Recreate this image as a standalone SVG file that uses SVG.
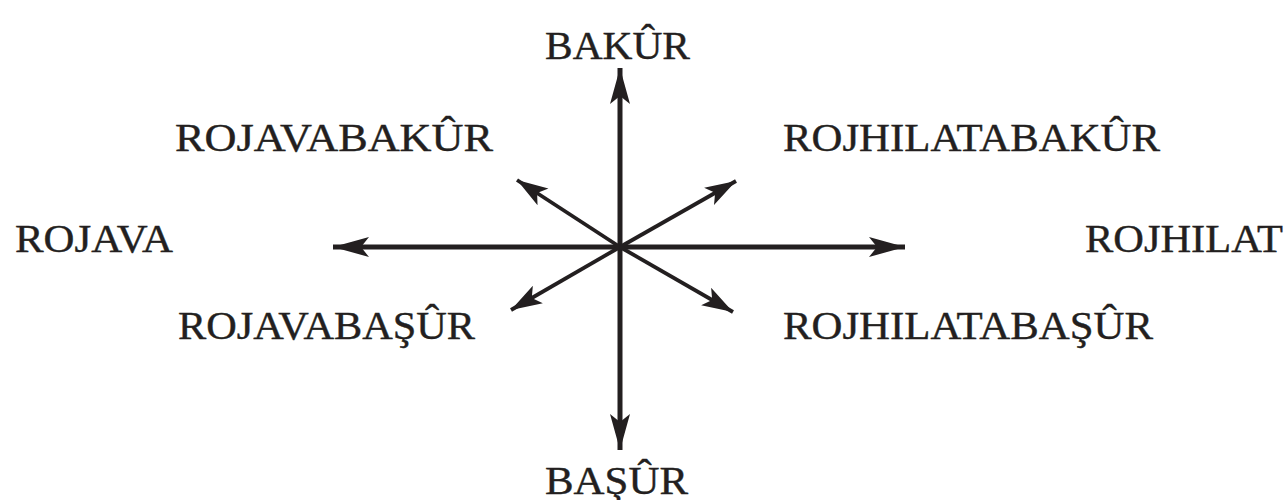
<svg xmlns="http://www.w3.org/2000/svg" width="1285" height="500" viewBox="0 0 1285 500">
  <style>
    .lbl { font-family: "Liberation Serif", "Times New Roman", serif; font-size: 39px; fill: #231f20; stroke: #231f20; stroke-width: 0.4; }
    .axis { stroke: #231f20; stroke-width: 5; fill: none; }
    .diag { stroke: #231f20; stroke-width: 3.8; fill: none; }
  </style>
  <defs>
    <marker id="headBig" markerUnits="userSpaceOnUse" viewBox="-38 -12 40 24" refX="0" refY="0" markerWidth="40" markerHeight="24" orient="auto">
      <path d="M0,0 L-36,-10 L-28,0 L-36,10 Z" fill="#231f20"/>
    </marker>
    <marker id="headSmall" markerUnits="userSpaceOnUse" viewBox="-34 -12 36 24" refX="0" refY="0" markerWidth="36" markerHeight="24" orient="auto">
      <path d="M0,0 L-31,-10 L-24,0 L-31,10 Z" fill="#231f20"/>
    </marker>
  </defs>
  <rect width="1285" height="500" fill="#ffffff"/>
  <g id="connectors">
    <line class="axis" x1="620" y1="247" x2="620" y2="68" marker-end="url(#headBig)"/>
    <line class="axis" x1="620" y1="247" x2="620" y2="450" marker-end="url(#headBig)"/>
    <line class="axis" x1="620" y1="247" x2="333" y2="247" marker-end="url(#headBig)"/>
    <line class="axis" x1="620" y1="247" x2="905" y2="247" marker-end="url(#headBig)"/>
    <line class="diag" x1="620" y1="247" x2="517" y2="180" marker-end="url(#headSmall)"/>
    <line class="diag" x1="620" y1="247" x2="736" y2="181" marker-end="url(#headSmall)"/>
    <line class="diag" x1="620" y1="247" x2="511" y2="310" marker-end="url(#headSmall)"/>
    <line class="diag" x1="620" y1="247" x2="733" y2="312" marker-end="url(#headSmall)"/>
  </g>
  <g id="bakur"><text class="lbl" x="545" y="59" textLength="145" lengthAdjust="spacingAndGlyphs">BAKÛR</text></g>
  <g id="rojavabakur"><text class="lbl" x="175" y="151" textLength="318" lengthAdjust="spacingAndGlyphs">ROJAVABAKÛR</text></g>
  <g id="rojhilatabakur"><text class="lbl" x="783" y="151" textLength="377" lengthAdjust="spacingAndGlyphs">ROJHILATABAKÛR</text></g>
  <g id="rojava"><text class="lbl" x="15" y="252" textLength="158" lengthAdjust="spacingAndGlyphs">ROJAVA</text></g>
  <g id="rojhilat"><text class="lbl" x="1085" y="252" textLength="198" lengthAdjust="spacingAndGlyphs">ROJHILAT</text></g>
  <g id="rojavabasur"><text class="lbl" x="178" y="339" textLength="297" lengthAdjust="spacingAndGlyphs">ROJAVABAŞÛR</text></g>
  <g id="rojhilatabasur"><text class="lbl" x="783" y="339" textLength="370" lengthAdjust="spacingAndGlyphs">ROJHILATABAŞÛR</text></g>
  <g id="basur"><text class="lbl" x="545" y="494" textLength="143" lengthAdjust="spacingAndGlyphs">BAŞÛR</text></g>
</svg>
